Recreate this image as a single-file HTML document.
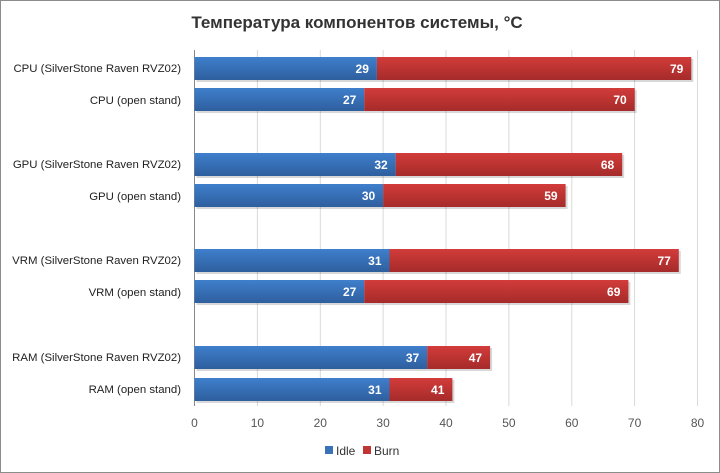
<!DOCTYPE html>
<html><head><meta charset="utf-8"><style>
body{margin:0;background:#fff}
svg{display:block}
text{font-family:"Liberation Sans",sans-serif}
</style></head><body>
<svg width="720" height="473" viewBox="0 0 720 473">
<defs>
<linearGradient id="b" x1="0" y1="0" x2="0" y2="1"><stop offset="0" stop-color="#3f7fcc"/><stop offset="1" stop-color="#2e5f9e"/></linearGradient>
<linearGradient id="r" x1="0" y1="0" x2="0" y2="1"><stop offset="0" stop-color="#d23c3a"/><stop offset="1" stop-color="#a52b2a"/></linearGradient>
</defs>
<rect x="0.5" y="0.5" width="719" height="472" fill="#fff" stroke="#8c8c8c"/>
<text x="357" y="28" text-anchor="middle" font-size="17" font-weight="bold" fill="#333">Температура компонентов системы, °C</text>
<g stroke="#d9d9d9" stroke-width="1">
<line x1="257.4" y1="50" x2="257.4" y2="406"/><line x1="320.3" y1="50" x2="320.3" y2="406"/><line x1="383.1" y1="50" x2="383.1" y2="406"/><line x1="446" y1="50" x2="446" y2="406"/><line x1="508.9" y1="50" x2="508.9" y2="406"/><line x1="571.8" y1="50" x2="571.8" y2="406"/><line x1="634.6" y1="50" x2="634.6" y2="406"/><line x1="697.5" y1="50" x2="697.5" y2="406"/>
</g>
<line x1="194.5" y1="50" x2="194.5" y2="406" stroke="#888"/>
<g font-size="12" fill="#555" text-anchor="middle">
<text x="194.5" y="427">0</text><text x="257.4" y="427">10</text><text x="320.3" y="427">20</text><text x="383.1" y="427">30</text><text x="446" y="427">40</text><text x="508.9" y="427">50</text><text x="571.8" y="427">60</text><text x="634.6" y="427">70</text><text x="697.5" y="427">80</text>
</g>
<g fill="#000" opacity="0.15">
<rect x="196.5" y="59" width="496.8" height="23"/>
<rect x="196.5" y="90" width="440.2" height="23"/>
<rect x="196.5" y="155" width="427.7" height="23"/>
<rect x="196.5" y="186" width="371.1" height="23"/>
<rect x="196.5" y="251" width="484.3" height="23"/>
<rect x="196.5" y="282" width="433.9" height="23"/>
<rect x="196.5" y="348" width="295.6" height="23"/>
<rect x="196.5" y="380" width="257.9" height="23"/>
</g>
<g fill="url(#b)">
<rect x="194.5" y="57" width="182.4" height="23"/>
<rect x="194.5" y="88" width="169.8" height="23"/>
<rect x="194.5" y="153" width="201.2" height="23"/>
<rect x="194.5" y="184" width="188.7" height="23"/>
<rect x="194.5" y="249" width="195" height="23"/>
<rect x="194.5" y="280" width="169.8" height="23"/>
<rect x="194.5" y="346" width="232.7" height="23"/>
<rect x="194.5" y="378" width="195" height="23"/>
</g>
<g fill="url(#r)">
<rect x="376.9" y="57" width="314.4" height="23"/>
<rect x="364.3" y="88" width="270.4" height="23"/>
<rect x="395.7" y="153" width="226.5" height="23"/>
<rect x="383.2" y="184" width="182.4" height="23"/>
<rect x="389.5" y="249" width="289.3" height="23"/>
<rect x="364.3" y="280" width="264.1" height="23"/>
<rect x="427.2" y="346" width="62.9" height="23"/>
<rect x="389.5" y="378" width="62.9" height="23"/>
</g>
<g font-size="12" font-weight="bold" fill="#fff" text-anchor="end">
<text x="368.9" y="73">29</text><text x="683.3" y="73">79</text>
<text x="356.3" y="104">27</text><text x="626.7" y="104">70</text>
<text x="387.7" y="169">32</text><text x="614.2" y="169">68</text>
<text x="375.2" y="200">30</text><text x="557.6" y="200">59</text>
<text x="381.5" y="265">31</text><text x="670.8" y="265">77</text>
<text x="356.3" y="296">27</text><text x="620.4" y="296">69</text>
<text x="419.2" y="362">37</text><text x="482.1" y="362">47</text>
<text x="381.5" y="394">31</text><text x="444.4" y="394">41</text>
</g>
<g font-size="11.4" fill="#222" text-anchor="end">
<text x="181" y="72">CPU (SilverStone Raven  RVZ02)</text>
<text x="181" y="104">CPU (open stand)</text>
<text x="181" y="168">GPU (SilverStone Raven  RVZ02)</text>
<text x="181" y="200">GPU (open stand)</text>
<text x="181" y="264">VRM (SilverStone Raven  RVZ02)</text>
<text x="181" y="296">VRM (open stand)</text>
<text x="181" y="361">RAM (SilverStone Raven  RVZ02)</text>
<text x="181" y="393">RAM (open stand)</text>
</g>
<rect x="325" y="446" width="8" height="8" fill="#3a72b8"/>
<text x="336" y="455" font-size="12" fill="#333">Idle</text>
<rect x="363" y="446" width="8" height="8" fill="#c03533"/>
<text x="374" y="455" font-size="12" fill="#333">Burn</text>
</svg>
</body></html>
